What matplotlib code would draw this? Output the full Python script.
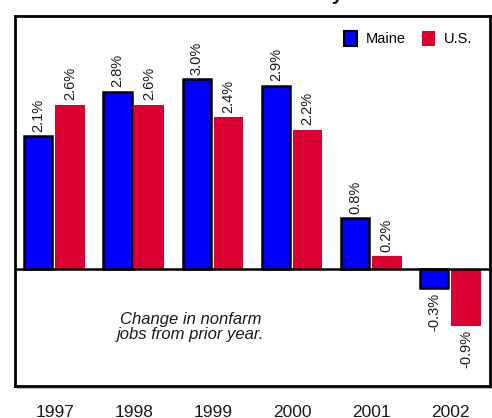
import numpy as np
import matplotlib
matplotlib.use("Agg")
import matplotlib.pyplot as plt
from matplotlib.patches import Patch, Rectangle

plt.rcParams.update({
    "font.family": ["Liberation Sans", "DejaVu Sans"],
    "font.size": 10,
})

# ============================================================
# Data
# ============================================================

years = ["1997", "1998", "1999", "2000", "2001", "2002"]
maine = [2.1, 2.8, 3.0, 2.9, 0.8, -0.3]
us = [2.6, 2.6, 2.4, 2.2, 0.2, -0.9]

BLUE = "#0000ff"
RED = "#dc0032"

# ============================================================
# Figure
# ============================================================

fig = plt.figure(figsize=(4.92, 4.18), dpi=100)
pos = [0.0305, 0.0766, 0.9655, 0.8851]

# faint drop shadow behind the frame
fig.patches.append(Rectangle((pos[0] + 2 / 492, pos[1] - 3 / 418),
                             pos[2], pos[3], transform=fig.transFigure,
                             facecolor="#bbbbbb", edgecolor="none",
                             zorder=0))

ax = fig.add_axes(pos)
ax.set_zorder(1)

x = np.arange(len(years))
w = 0.355

ax.bar(x - 0.205, maine, width=w, color=BLUE, edgecolor="black",
       linewidth=1.8, zorder=3)
ax.bar(x + 0.195, us, width=w + 0.02, color=RED, edgecolor="none", zorder=3)

# value labels
for xi, v in zip(x - 0.205, maine):
    ax.text(xi, v + (0.07 if v >= 0 else -0.07), f"{v:.1f}%",
            rotation=90, ha="center", va="bottom" if v >= 0 else "top",
            fontsize=10.5, color="#1a1a1a")
for xi, v in zip(x + 0.195, us):
    ax.text(xi, v + (0.07 if v >= 0 else -0.07), f"{v:.1f}%",
            rotation=90, ha="center", va="bottom" if v >= 0 else "top",
            fontsize=10.5, color="#1a1a1a")

ax.axhline(0, color="black", linewidth=1.8, zorder=4)

ax.set_xlim(-0.5, len(years) - 0.5)
ax.set_ylim(-1.85, 4.0)
ax.set_yticks([])
ax.set_xticks(x)
ax.set_xticklabels(years, fontsize=12.5, color="#1a1a1a")
ax.tick_params(axis="x", length=0, pad=14)

for s in ax.spines.values():
    s.set_linewidth(2)
    s.set_color("black")

ax.text(1.72, -0.92, "Change in nonfarm\njobs from prior year.",
        ha="center", va="center", style="italic", fontsize=12,
        color="#1a1a1a", linespacing=1.05)

handles = [
    Patch(facecolor=BLUE, edgecolor="black", linewidth=1.5, label="Maine"),
    Patch(facecolor=RED, edgecolor="none", label="U.S."),
]
ax.legend(handles=handles, loc="upper right", ncol=2, frameon=False,
          fontsize=10.5, handlelength=0.9, handleheight=1.2,
          handletextpad=0.6, columnspacing=1.1,
          bbox_to_anchor=(0.99, 0.995))

# title, mostly cut off at the top edge of the picture
fig.text(0.515, 1.0, "Maine Nonfarm Jobs by Year",
         ha="center", va="baseline", fontsize=14.5, fontweight="bold",
         color="#1a1a1a")

fig.savefig("out.png", dpi=100)
